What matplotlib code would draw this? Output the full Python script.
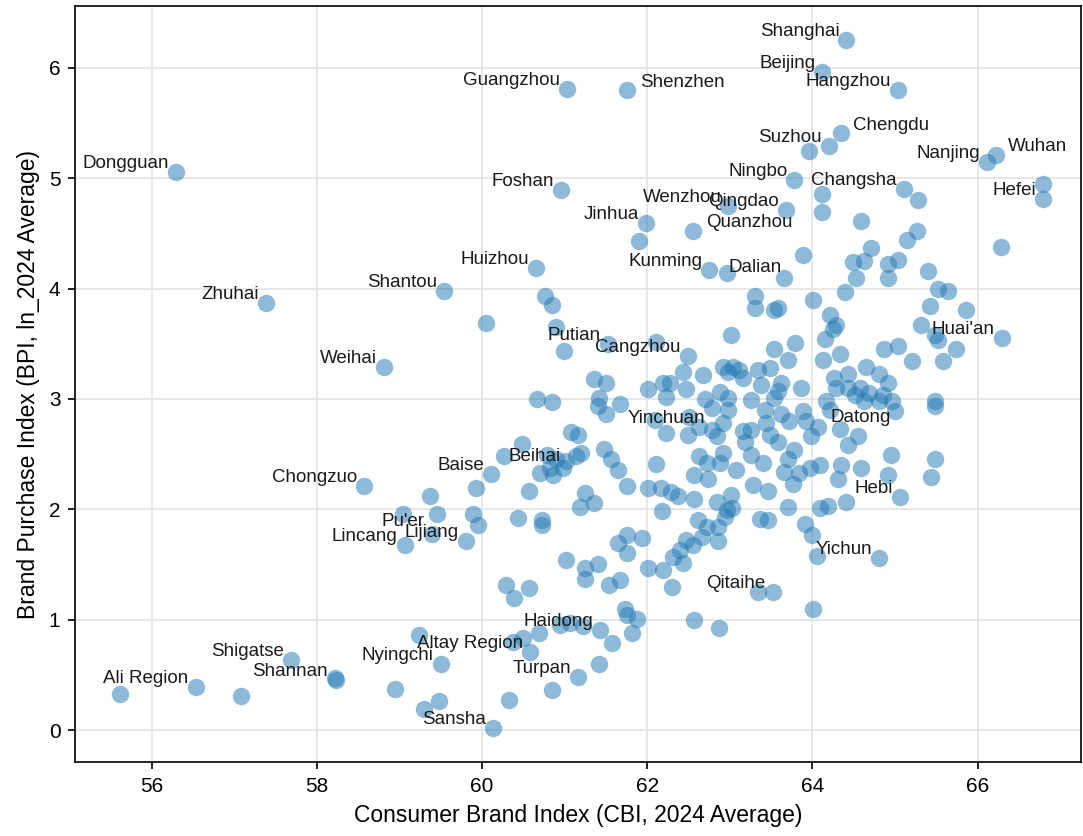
import matplotlib
matplotlib.use("Agg")
import matplotlib.pyplot as plt

plt.rcParams['font.family'] = ['Liberation Sans', 'DejaVu Sans']

# 标注的城市
city_names = [
    "Shanghai", "Beijing", "Hangzhou", "Guangzhou", "Shenzhen", "Chengdu", "Suzhou",
    "Nanjing", "Wuhan", "Dongguan", "Hefei", "Foshan", "Ningbo", "Changsha",
    "Wenzhou", "Qingdao", "Jinhua", "Quanzhou", "Kunming", "Dalian", "Huizhou",
    "Shantou", "Zhuhai", "Putian", "Cangzhou", "Huai'an", "Weihai", "Yinchuan",
    "Datong", "Chongzuo", "Baise", "Beihai", "Hebi", "Pu'er", "Lijiang", "Lincang",
    "Yichun", "Qitaihe", "Haidong", "Altay Region", "Shigatse", "Nyingchi",
    "Shannan", "Turpan", "Ali Region", "Sansha",
]
city_cbi = [
    64.41, 64.12, 65.04, 61.03, 61.76, 64.34, 64.20,
    66.11, 66.22, 56.29, 66.79, 60.95, 63.78, 65.11,
    62.98, 63.68, 61.98, 62.55, 62.75, 62.97, 60.65,
    59.54, 57.38, 61.52, 62.49, 66.29, 58.81, 62.78,
    65.00, 58.57, 60.11, 60.27, 65.06, 59.04, 59.80, 59.06,
    64.81, 63.52, 61.43, 60.58, 57.68, 59.50,
    58.22, 61.16, 56.53, 60.13,
]
city_bpi = [
    6.25, 5.96, 5.80, 5.81, 5.80, 5.41, 5.29,
    5.15, 5.21, 5.06, 4.81, 4.89, 4.98, 4.90,
    4.75, 4.71, 4.59, 4.52, 4.17, 4.14, 4.19,
    3.98, 3.87, 3.50, 3.39, 3.55, 3.29, 2.72,
    2.89, 2.21, 2.32, 2.48, 2.11, 1.96, 1.71, 1.68,
    1.56, 1.25, 0.91, 0.71, 0.63, 0.60,
    0.47, 0.48, 0.39, 0.02,
]

# 其余城市（无标注）
other_cbi = [
    61.90, 63.96, 66.79, 64.11, 64.12, 64.59, 65.28, 65.26, 65.15, 64.71, 66.28,
    60.76, 60.85, 60.05, 60.90, 60.99, 60.66, 60.85, 61.16, 61.08, 60.48, 60.78,
    60.90, 61.02, 61.14, 61.20, 60.70, 60.86, 60.98, 60.82, 59.93, 60.57, 59.37,
    59.45, 59.89, 59.95, 60.43, 60.73, 60.73, 59.39, 61.02, 60.29, 60.39, 60.57,
    61.22, 61.06, 60.94, 60.69, 60.37, 60.49, 61.42, 60.85, 60.33, 59.48, 59.29,
    59.24, 58.94, 57.08, 55.62, 58.23,
    63.01, 62.10, 61.36, 61.50, 61.42, 61.40, 61.50, 61.67, 62.01, 62.19, 62.27,
    62.23, 62.43, 62.47, 62.67, 62.92, 63.04, 63.11, 63.16, 62.98, 62.70, 62.88,
    62.98, 62.78, 62.98, 62.92, 62.51, 62.63, 62.49, 62.84, 62.09, 62.23, 61.48,
    61.56, 61.65, 61.75, 62.10, 62.01, 62.17, 62.29, 62.37, 62.63, 62.72, 62.88,
    62.92, 63.16, 63.08, 62.57, 62.73, 61.24, 61.36, 61.18, 62.18, 62.57, 62.61,
    62.72, 62.86, 62.66, 62.47, 62.39, 62.31, 62.43, 62.86, 62.84, 62.96, 63.02,
    62.94, 63.36, 63.46, 61.65, 61.75, 61.75, 61.93, 61.24, 61.24, 61.40, 61.54,
    61.67, 62.01, 62.19, 62.30, 61.73, 61.75, 61.87, 61.81, 61.57, 62.56, 62.87,
    63.34, 64.01, 64.05, 63.91, 63.99, 62.55, 63.01,
    63.89, 64.49, 64.63, 64.91, 65.04, 65.40, 64.53, 64.92, 63.65, 65.52, 65.64,
    64.39, 63.30, 63.30, 63.53, 63.58, 64.01, 65.42, 65.86, 64.21, 64.29, 64.25,
    65.32, 65.48, 65.52, 64.15, 63.79, 63.53, 63.70, 64.13, 64.33, 64.87, 65.04,
    65.20, 65.58, 65.74, 63.34, 63.48, 63.38, 63.62, 63.58, 63.86, 64.65, 64.43,
    64.26, 64.81, 64.91, 64.29, 64.43, 64.51, 64.57, 64.69, 64.85, 64.96, 64.81,
    64.63, 65.49, 65.49, 63.26, 63.54, 64.17, 64.21, 63.42, 63.62, 63.88, 63.72,
    63.92, 64.07, 63.44, 63.26, 63.48, 63.98, 63.58, 64.33, 64.55, 64.43, 63.18,
    63.26, 63.78, 63.40, 63.70, 64.09, 63.97, 63.66, 63.84, 64.35, 64.59, 64.95,
    64.91, 65.49, 65.43, 64.31, 63.76, 63.28, 63.46, 64.41, 64.19, 64.09, 63.70,
]
other_bpi = [
    4.43, 5.25, 4.95, 4.86, 4.69, 4.61, 4.80, 4.52, 4.44, 4.37, 4.38,
    3.93, 3.85, 3.69, 3.65, 3.43, 3.00, 2.97, 2.67, 2.70, 2.59, 2.49,
    2.46, 2.44, 2.48, 2.51, 2.33, 2.31, 2.37, 2.37, 2.19, 2.17, 2.12,
    1.96, 1.96, 1.86, 1.92, 1.90, 1.86, 1.78, 1.54, 1.31, 1.20, 1.29,
    0.94, 0.97, 0.95, 0.88, 0.80, 0.83, 0.60, 0.36, 0.27, 0.26, 0.19,
    0.86, 0.37, 0.31, 0.33, 0.45,
    3.58, 3.52, 3.18, 3.14, 3.01, 2.94, 2.86, 2.95, 3.09, 3.14, 3.14,
    3.02, 3.24, 3.09, 3.22, 3.29, 3.29, 3.26, 3.19, 3.24, 3.00, 3.06,
    3.01, 2.92, 2.90, 2.78, 2.84, 2.75, 2.67, 2.66, 2.81, 2.69, 2.55,
    2.46, 2.36, 2.21, 2.41, 2.19, 2.19, 2.16, 2.12, 2.48, 2.42, 2.42,
    2.51, 2.71, 2.36, 2.31, 2.27, 2.15, 2.06, 2.02, 1.98, 2.09, 1.90,
    1.84, 1.84, 1.75, 1.72, 1.63, 1.57, 1.51, 1.71, 2.07, 1.99, 2.01,
    1.93, 1.91, 1.90, 1.69, 1.77, 1.60, 1.74, 1.47, 1.37, 1.50, 1.31,
    1.36, 1.47, 1.45, 1.30, 1.10, 1.04, 1.01, 0.88, 0.79, 1.00, 0.92,
    1.25, 1.10, 1.58, 1.87, 1.77, 1.68, 2.13,
    4.30, 4.24, 4.25, 4.22, 4.26, 4.16, 4.10, 4.10, 4.10, 4.00, 3.98,
    3.97, 3.93, 3.82, 3.81, 3.82, 3.90, 3.84, 3.81, 3.76, 3.67, 3.63,
    3.67, 3.58, 3.53, 3.54, 3.51, 3.45, 3.35, 3.35, 3.41, 3.45, 3.48,
    3.34, 3.34, 3.45, 3.26, 3.28, 3.13, 3.14, 3.07, 3.10, 3.29, 3.23,
    3.19, 3.23, 3.14, 3.10, 3.10, 3.04, 3.10, 3.05, 3.04, 2.98, 2.98,
    2.98, 2.98, 2.94, 2.99, 3.01, 2.98, 2.90, 2.90, 2.86, 2.89, 2.80,
    2.80, 2.75, 2.78, 2.72, 2.67, 2.66, 2.61, 2.73, 2.66, 2.58, 2.61,
    2.49, 2.54, 2.42, 2.46, 2.40, 2.37, 2.34, 2.33, 2.40, 2.37, 2.49,
    2.31, 2.46, 2.29, 2.27, 2.23, 2.22, 2.17, 2.07, 2.03, 2.01, 2.02,
]

# 标签位置微调 (ha, dx, dy)，单位像素；默认在点的左上方
label_offsets = {
    "Shenzhen": ("left", 13, 3),
    "Chengdu": ("left", 12, 3),
    "Wuhan": ("left", 12, 4),
    "Quanzhou": ("left", 13, 4),
    "Dalian": ("left", 1, 1),
    "Beihai": ("left", 4, -5),
    "Pu'er": ("center", 0, -12),
    "Datong": ("right", -4, -11),
    "Yinchuan": ("right", -6, 7),
    "Shannan": ("right", -7, 2),
}

fig = plt.figure(figsize=(1083 / 150, 836 / 150), dpi=150)
ax = fig.add_subplot(111)
fig.subplots_adjust(left=0.0693, right=0.998, bottom=0.0885, top=0.9928)

all_cbi = other_cbi + city_cbi
all_bpi = other_bpi + city_bpi
ax.scatter(all_cbi, all_bpi, s=70, color='#1f77b4', alpha=0.5, linewidths=0, zorder=2)

for name, x, y in zip(city_names, city_cbi, city_bpi):
    ha, dx, dy = label_offsets.get(name, ("right", -7, 4))
    ax.annotate(name, (x, y), xytext=(dx, dy), textcoords='offset pixels',
                ha=ha, va='baseline', fontsize=9, color='#1a1a1a', zorder=3)

ax.set_xlim(55.07, 67.25)
ax.set_ylim(-0.29, 6.56)
ax.set_xticks([56, 58, 60, 62, 64, 66])
ax.set_yticks([0, 1, 2, 3, 4, 5, 6])
ax.grid(True, color='#e3e3e3', linewidth=0.8, zorder=0)
ax.set_axisbelow(True)
ax.tick_params(labelsize=10, direction='out')
ax.set_xlabel("Consumer Brand Index (CBI, 2024 Average)", fontsize=11)
ax.set_ylabel("Brand Purchase Index (BPI, ln_2024 Average)", fontsize=11)

fig.savefig("out.png", dpi=150)
